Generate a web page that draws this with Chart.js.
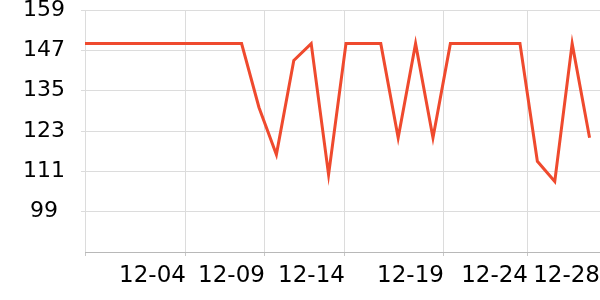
<!DOCTYPE html>
<html>
<head>
<meta charset="utf-8">
<script src="https://cdn.jsdelivr.net/npm/chart.js@4/dist/chart.umd.min.js"></script>
<style>
  html, body { margin: 0; padding: 0; background: #fff; }
  #wrap { width: 600px; height: 300px; position: relative; }
</style>
</head>
<body>
<div id="wrap"><canvas id="c"></canvas></div>
<script>
// Series values, one per point (30 consecutive samples)
const values = [149, 149, 149, 149, 149, 149, 149, 149, 149, 149,
                130, 116, 144, 149, 110, 149, 149, 149, 121, 149,
                121, 149, 149, 149, 149, 149, 114, 108, 149, 121];
// X tick labels and where they sit along the sample index
const xTickLabels = ['', '12-04', '12-09', '12-14', '12-19', '12-24', '12-28'];
const xTickIndex  = [0, 5.8, 10.34, 14.94, 20.63, 25.46, 29.6];
// Y axis ticks
const yTicks = [99, 111, 123, 135, 147, 159];
const yMin = 87, yMax = 159;

const points = values.map((v, i) => ({ x: i, y: v }));
const FONT = 'DejaVu Sans';

new Chart(document.getElementById('c'), {
  type: 'line',
  data: {
    datasets: [{
      data: points,
      borderColor: '#ef4a2e',
      borderWidth: 3,
      pointRadius: 0,
      tension: 0,
      fill: false
    }]
  },
  options: {
    responsive: true,
    maintainAspectRatio: false,
    animation: false,
    plugins: { legend: { display: false }, tooltip: { enabled: false } },
    layout: { padding: { left: 0, right: 0, top: 0, bottom: 0 } },
    scales: {
      x: {
        type: 'linear',
        min: 0,
        max: xTickIndex[xTickIndex.length - 1],
        afterBuildTicks: (s) => { s.ticks = xTickIndex.map(v => ({ value: v })); },
        afterFit: (s) => { s.height = 48; s.paddingLeft = 0; s.paddingRight = 0; },
        ticks: {
          autoSkip: false,
          maxRotation: 0,
          align: 'end',
          padding: 6,
          color: '#000',
          font: { family: FONT, size: 23 },
          callback: (v, i) => xTickLabels[i]
        },
        grid: {
          color: (ctx) => ctx.index === xTickIndex.length - 1 ? 'rgba(0,0,0,0)' : '#dcdcdc',
          tickLength: 4,
          tickColor: '#c8c8c8'
        },
        border: { color: '#b8b8b8', width: 1 }
      },
      y: {
        min: yMin,
        max: yMax,
        afterBuildTicks: (s) => { s.ticks = yTicks.map(v => ({ value: v })); },
        afterFit: (s) => { s.width = 85; s.paddingTop = 10; s.paddingBottom = 0; },
        ticks: {
          crossAlign: 'center',
          padding: 16,
          color: '#000',
          font: { family: FONT, size: 22 }
        },
        grid: { color: '#dcdcdc', tickLength: 4, tickColor: '#dcdcdc' },
        border: { display: false }
      }
    }
  }
});
</script>
</body>
</html>
